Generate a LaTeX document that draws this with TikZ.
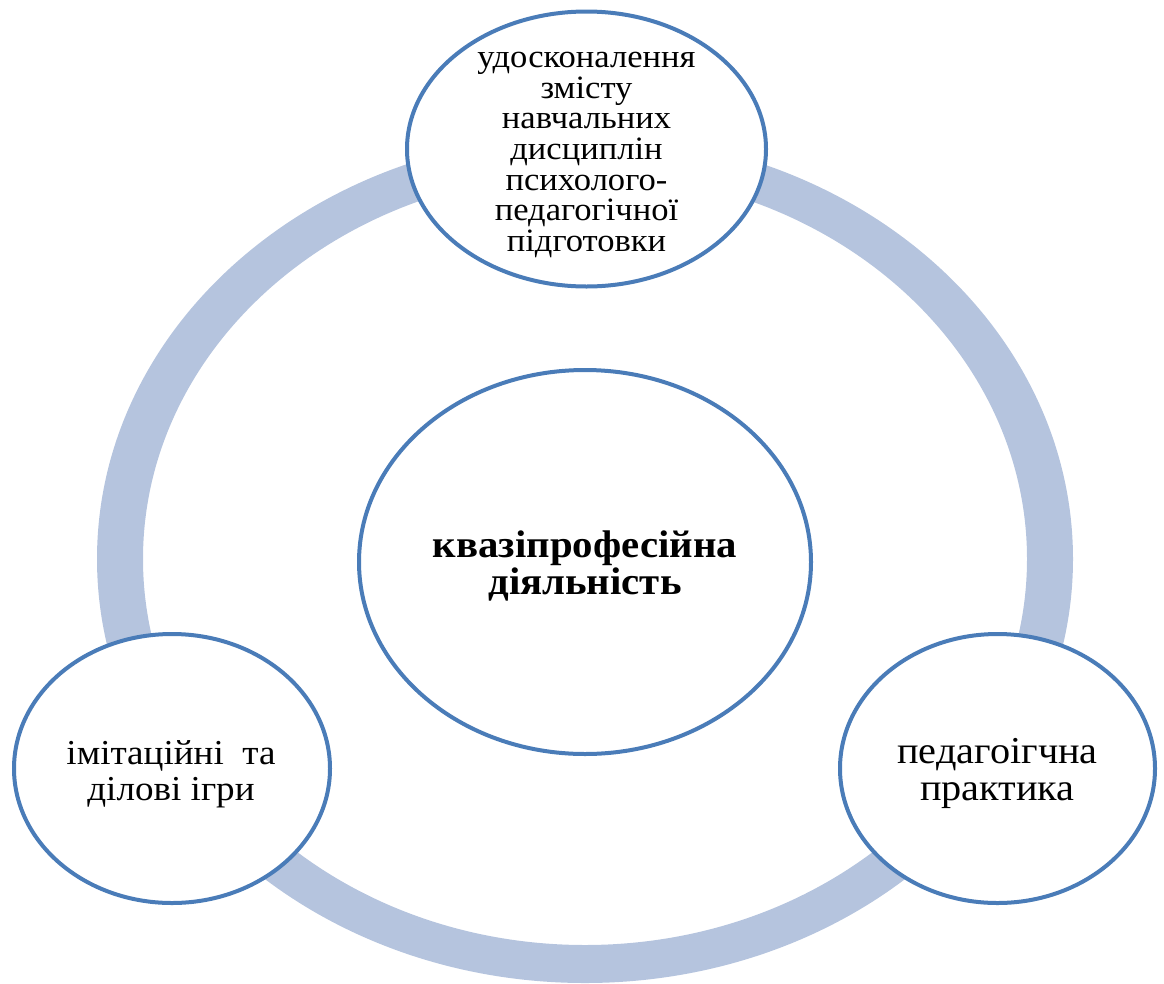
\documentclass[tikz,border=0pt]{standalone}
\usepackage{fontspec}
\setmainfont{Liberation Serif}[FakeStretch=1.06]
\usetikzlibrary{shapes.geometric}
\definecolor{ringc}{RGB}{181,196,222}
\definecolor{edgec}{RGB}{74,124,184}
\tikzset{
  bub/.style={ellipse, draw=edgec, line width=4pt, fill=white, inner sep=0pt},
  txt/.style={align=center, inner sep=0pt, text=black},
}
\begin{document}
\begin{tikzpicture}[x=1pt,y=-1pt]
\useasboundingbox (0,0) rectangle (1164,983);
% ring
\fill[ringc, even odd rule] (585,559) ellipse [x radius=488pt, y radius=424pt]
                            (585,559) ellipse [x radius=442pt, y radius=386pt];
% bubbles
\node[bub, minimum width=359pt, minimum height=275pt] (top) at (586.5,149) {};
\node[bub, minimum width=452pt, minimum height=384pt] (mid) at (585,562) {};
\node[bub, minimum width=316pt, minimum height=269pt] (left) at (172,768.5) {};
\node[bub, minimum width=315pt, minimum height=269pt] (right) at (997.5,768.5) {};
% texts
\node[txt, font=\fontsize{32.6}{30.7}\selectfont] (toptext) at ([yshift=-6pt]top.center)
  {удосконалення\\змісту\\навчальних\\дисциплін\\психолого-\\педагогічної\\підготовки};
\node[txt, font=\fontsize{38.5}{37}\selectfont\bfseries] (midtext) at ([yshift=-3.5pt]mid.center)
  {квазіпрофесійна\\діяльність};
\node[txt, font=\fontsize{35}{35.5}\selectfont] (lefttext) at ([xshift=-1pt,yshift=-5.5pt]left.center)
  {імітаційні\ \ та\\ділові ігри};
\node[txt, font=\fontsize{38}{37}\selectfont] (righttext) at ([yshift=-5pt]right.center)
  {педагоігчна\\практика};
\end{tikzpicture}
\end{document}
